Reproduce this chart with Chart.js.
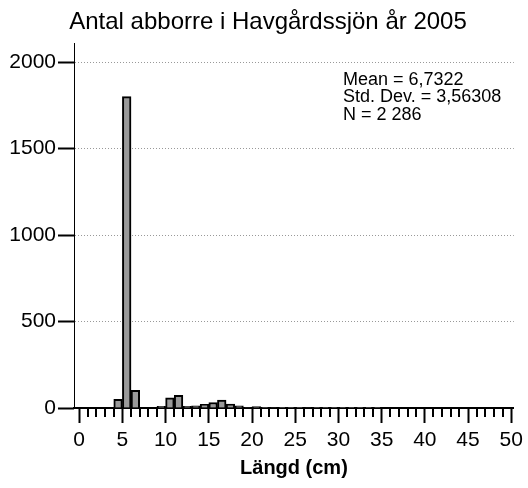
<!DOCTYPE html>
<html lang="sv">
<head>
<meta charset="utf-8">
<title>Antal abborre i Havgårdssjön år 2005</title>
<script src="https://cdn.jsdelivr.net/npm/chart.js@4.4.0/dist/chart.umd.min.js"></script>
<style>
  html, body { margin: 0; padding: 0; background: #fff; }
  #wrap { width: 528px; height: 488px; }
</style>
</head>
<body>
<div id="wrap"><canvas id="histChart" width="528" height="488"></canvas></div>
<script>
// ---- Data (längdklasser, 1 cm breda) ----
const binStarts = [0, 1, 2, 3, 4, 5, 6, 7, 8, 9, 10, 11, 12, 13, 14, 15, 16, 17,
  18, 19, 20, 21, 22, 23, 24, 25, 26, 27, 28, 29, 30, 31, 32, 33, 34];
const counts = [0, 0, 0, 0, 50, 1800, 102, 0, 0, 10, 59, 73, 10, 12, 21, 32, 46, 22,
  12, 3, 8, 4, 3, 2, 2, 2, 3, 2, 2, 1, 2, 1, 1, 1, 1];
const xTicks = [0, 5, 10, 15, 20, 25, 30, 35, 40, 45, 50];
const yTicks = [0, 500, 1000, 1500, 2000];
const chartTitle = "Antal abborre i Havgårdssjön år 2005";
const xTitle = "Längd (cm)";
const statLines = ["Mean = 6,7322", "Std. Dev. = 3,56308", "N = 2 286"];

const FONT = "'Liberation Sans', Arial, Helvetica, sans-serif";

// ---- Titel, statistikruta och små streck på x-axeln ----
const extrasPlugin = {
  id: "extras",
  afterDraw(chart) {
    const { ctx, chartArea, scales: { x } } = chart;
    ctx.save();
    ctx.strokeStyle = "#000";
    ctx.lineWidth = 2;
    ctx.beginPath();
    for (let v = xTicks[0] + 1; v < xTicks[xTicks.length - 1]; v++) {
      if (xTicks.includes(v)) continue;
      const px = Math.round(x.getPixelForValue(v));
      ctx.moveTo(px, chartArea.bottom);
      ctx.lineTo(px, chartArea.bottom + 9);
    }
    ctx.stroke();

    ctx.fillStyle = "#000";
    ctx.textBaseline = "middle";
    ctx.font = `24px ${FONT}`;
    ctx.textAlign = "center";
    ctx.fillText(chartTitle, 268, 22);

    ctx.font = `18px ${FONT}`;
    ctx.textAlign = "left";
    statLines.forEach((s, i) => ctx.fillText(s, 343, 80 + i * 17.5));
    ctx.restore();
  },
};

const ctx = document.getElementById("histChart").getContext("2d");
new Chart(ctx, {
  type: "bar",
  data: {
    datasets: [
      {
        data: binStarts.map((b, i) => ({ x: b + 0.5, y: counts[i] })),
        backgroundColor: "#9a9a9a",
        borderColor: "#000",
        borderWidth: 2,
        barPercentage: 1,
        categoryPercentage: 1,
      },
    ],
  },
  options: {
    responsive: false,
    animation: false,
    devicePixelRatio: 1,
    layout: { padding: { top: 43, right: 11, left: 0, bottom: 0 } },
    plugins: {
      legend: { display: false },
      tooltip: { enabled: false },
    },
    scales: {
      x: {
        type: "linear",
        min: -0.6,
        max: 50.3,
        offset: false,
        afterBuildTicks: s => { s.ticks = xTicks.map(v => ({ value: v })); },
        afterFit: s => { s.height = 80; },
        grid: { drawOnChartArea: false, offset: false, tickLength: 15, tickWidth: 2, tickColor: "#000" },
        border: { display: true, color: "#000", width: 2 },
        ticks: { color: "#000", font: { size: 21, family: FONT }, padding: 5, maxRotation: 0, callback: v => String(v) },
        title: {
          display: true,
          text: xTitle,
          color: "#000",
          font: { size: 20, weight: "bold", family: FONT },
          padding: { top: 0, bottom: 8 },
        },
      },
      y: {
        min: 0,
        max: 2110,
        afterBuildTicks: s => { s.ticks = yTicks.map(v => ({ value: v })); },
        afterFit: s => { s.width = 74; },
        grid: { color: "#999", lineWidth: 1, tickLength: 16, tickWidth: 2, tickColor: "#000" },
        border: { display: true, color: "#000", width: 1, dash: [1, 2] },
        ticks: { color: "#000", font: { size: 21, family: FONT }, padding: 2, callback: v => String(v) },
      },
    },
  },
  plugins: [extrasPlugin],
});
</script>
</body>
</html>
